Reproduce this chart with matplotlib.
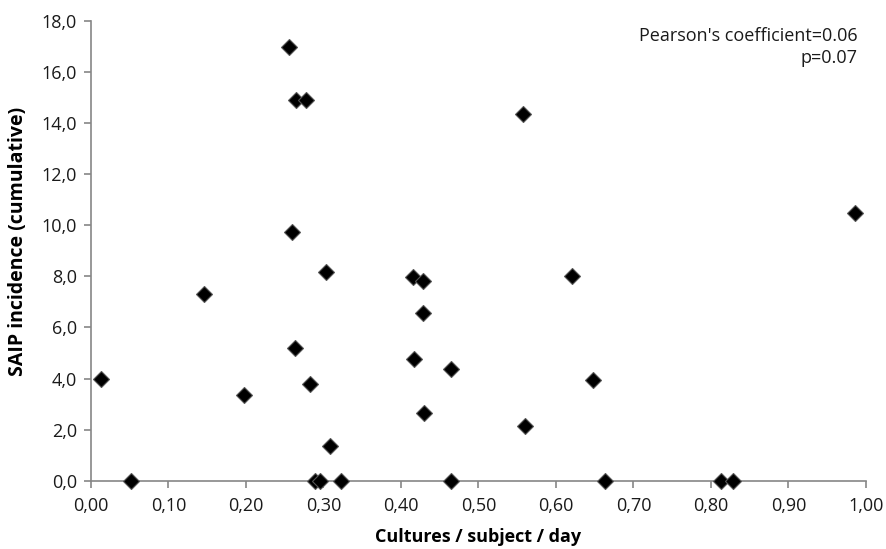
import matplotlib
matplotlib.use('Agg')
import matplotlib.pyplot as plt
from matplotlib.ticker import FuncFormatter

plt.rcParams['font.family'] = ['Open Sans', 'DejaVu Sans']

# cultures per subject per day vs cumulative SAIP incidence
cultures = [0.255, 0.264, 0.278, 0.260, 0.303, 0.416, 0.428, 0.146, 0.428,
            0.263, 0.417, 0.464, 0.0125, 0.283, 0.198, 0.430, 0.308,
            0.052, 0.289, 0.2955, 0.322, 0.465, 0.663, 0.813, 0.828,
            0.557, 0.986, 0.621, 0.648, 0.560]
saip = [17.0, 14.9, 14.9, 9.75, 8.18, 7.99, 7.82, 7.30, 6.58,
        5.21, 4.76, 4.36, 3.98, 3.77, 3.37, 2.66, 1.37,
        0.0, 0.0, 0.0, 0.0, 0.0, 0.0, 0.0, 0.0,
        14.37, 10.47, 8.0, 3.94, 2.14]

xticks = [i / 10 for i in range(11)]
yticks = [2 * i for i in range(10)]

fig = plt.figure(figsize=(8.86, 5.49), dpi=100)
ax = fig.add_axes([0.1027, 0.1244, 0.8747, 0.8373])

ax.plot(cultures, saip, linestyle='none', marker='D', markersize=7.9,
        markerfacecolor='black', markeredgecolor='#555555', markeredgewidth=0.8,
        clip_on=False, zorder=3)

ax.set_xlim(0, 1.0)
ax.set_ylim(0, 18.0)
ax.set_xticks(xticks)
ax.set_yticks(yticks)
ax.xaxis.set_major_formatter(FuncFormatter(lambda v, p: f'{v:.2f}'.replace('.', ',')))
ax.yaxis.set_major_formatter(FuncFormatter(lambda v, p: f'{v:.1f}'.replace('.', ',')))

for side in ['top', 'right']:
    ax.spines[side].set_visible(False)
for side in ['left', 'bottom']:
    ax.spines[side].set_color('#868686')
    ax.spines[side].set_linewidth(1.2)
ax.tick_params(axis='both', direction='out', color='#868686', width=1.2,
               length=5, labelsize=13, labelcolor='#1a1a1a')
ax.tick_params(axis='x', pad=7)
ax.tick_params(axis='y', pad=5)

ax.set_xlabel('Cultures / subject / day', fontsize=13, fontweight='bold', labelpad=9)
ax.set_ylabel('SAIP incidence (cumulative)', fontsize=14, fontweight='bold')
ax.yaxis.set_label_coords(-0.081, 0.52)

ax.text(0.989, 0.987, "Pearson's coefficient=0.06\np=0.07", transform=ax.transAxes,
        ha='right', va='top', fontsize=13, linespacing=1.3, color='#1a1a1a')

fig.savefig('out.png', dpi=100)
